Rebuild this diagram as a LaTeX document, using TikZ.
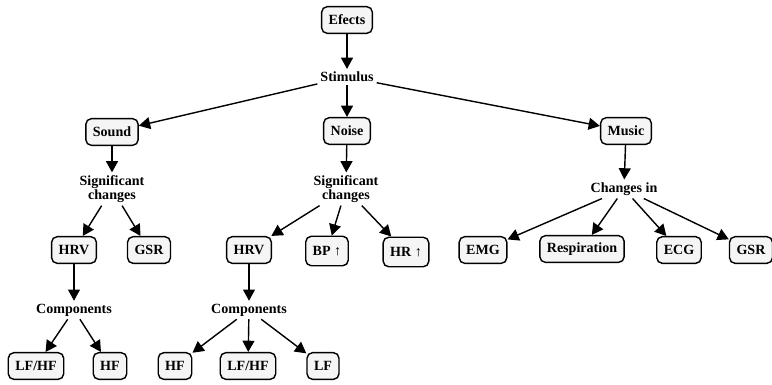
\documentclass[tikz,border=0pt]{standalone}
\usepackage{fontspec}
\setmainfont{Liberation Serif}
\usepackage[dvipsnames]{xcolor}
\colorlet{myfill}{black!4}
\usepackage{tikz}
\usetikzlibrary{arrows.meta}
\tikzset{
  box/.style={draw,line width=1pt,rounded corners=4pt,fill=myfill,minimum height=19pt,inner xsep=5pt,font=\bfseries},
  lbl/.style={font=\fontsize{10}{10}\selectfont\bfseries,align=center,inner sep=2pt},
  arr/.style={line width=1pt,-{Triangle[length=8pt,width=8.5pt]}}
}
\begin{document}
\begin{tikzpicture}
        \useasboundingbox (0cm,0cm) rectangle (19.3cm,-9.6cm);
        \node[box] (efects) at (8.675cm,-0.5cm) {Efects};
        \node[lbl] (stimulus) at (8.675cm,-1.925cm) {Stimulus};
        \node[box] (sound) at (2.8cm,-3.3cm) {Sound};
        \node[box] (noise) at (8.675cm,-3.275cm) {Noise};
        \node[box] (music) at (15.65cm,-3.275cm) {Music};
        \node[lbl] (sigL) at (2.8cm,-4.725cm) {Significant\\changes};
        \node[lbl] (sigM) at (8.65cm,-4.725cm) {Significant\\changes};
        \node[lbl] (changes) at (15.6cm,-4.725cm) {Changes in};
        \node[box] (hrvL) at (1.85cm,-6.25cm) {HRV};
        \node[box] (gsrL) at (3.725cm,-6.25cm) {GSR};
        \node[box] (hrvM) at (6.225cm,-6.25cm) {HRV};
        \node[box,minimum height=21pt] (bp) at (8.175cm,-6.275cm) {BP ↑};
        \node[box,minimum height=21pt] (hr) at (10.15cm,-6.3cm) {HR ↑};
        \node[box] (emg) at (12.075cm,-6.25cm) {EMG};
        \node[box] (resp) at (14.55cm,-6.225cm) {Respiration};
        \node[box] (ecg) at (16.975cm,-6.25cm) {ECG};
        \node[box] (gsrR) at (18.775cm,-6.25cm) {GSR};
        \node[lbl] (compL) at (1.85cm,-7.75cm) {Components};
        \node[lbl] (compM) at (6.225cm,-7.75cm) {Components};
        \node[box] (lfhfL) at (0.9cm,-9.15cm) {LF/HF};
        \node[box] (hfL) at (2.75cm,-9.15cm) {HF};
        \node[box] (hfM) at (4.375cm,-9.15cm) {HF};
        \node[box] (lfhfM) at (6.2cm,-9.15cm) {LF/HF};
        \node[box] (lf) at (8.075cm,-9.15cm) {LF};
        \foreach \a/\b in {efects/stimulus,stimulus/sound,stimulus/noise,stimulus/music,
            sound/sigL,noise/sigM,music/changes,sigL/hrvL,sigL/gsrL,sigM/hrvM,sigM/bp,sigM/hr,
            changes/emg,changes/resp,changes/ecg,changes/gsrR,hrvL/compL,hrvM/compM,
            compL/lfhfL,compL/hfL,compM/hfM,compM/lfhfM,compM/lf}{\draw[arr] (\a) -- (\b);}
      \end{tikzpicture}
\end{document}
